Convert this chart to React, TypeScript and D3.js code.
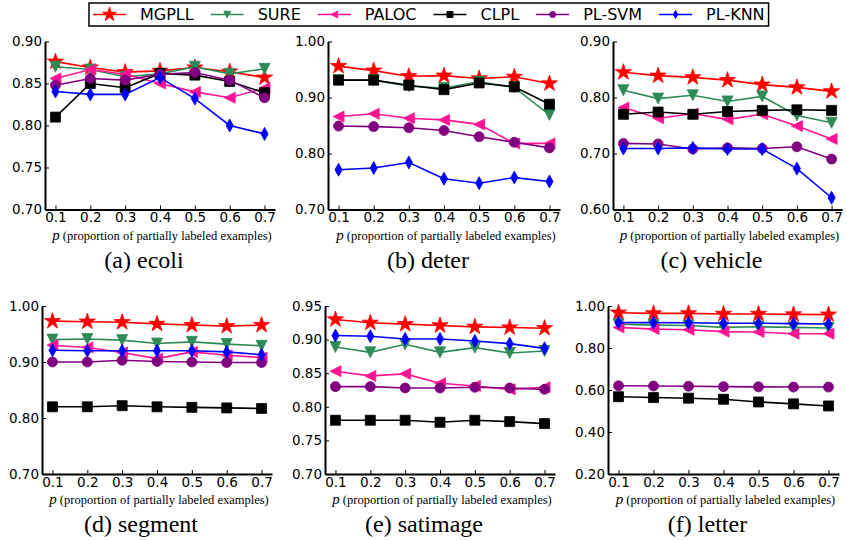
import React, { useEffect, useRef } from 'react';
import * as d3 from 'd3';

// x values shared by every panel
const pValues = [0.1, 0.2, 0.3, 0.4, 0.5, 0.6, 0.7];
const methods = ['MGPLL', 'SURE', 'PALOC', 'CLPL', 'PL-SVM', 'PL-KNN'];

// one row per method, in the order of `methods`
const ecoli = [
    [0.876, 0.869, 0.8635, 0.865, 0.869, 0.864, 0.857],
    [0.870, 0.8667, 0.858, 0.8615, 0.870, 0.8615, 0.8675],
    [0.856, 0.8667, 0.861, 0.850, 0.840, 0.833, 0.8445],
    [0.810, 0.850, 0.845, 0.862, 0.860, 0.8524, 0.839],
    [0.848, 0.856, 0.854, 0.861, 0.863, 0.854, 0.833],
    [0.8405, 0.837, 0.837, 0.857, 0.832, 0.800, 0.790]
];
const deter = [
    [0.956, 0.948, 0.938, 0.939, 0.934, 0.937, 0.925],
    [0.931, 0.931, 0.920, 0.917, 0.928, 0.918, 0.869],
    [0.866, 0.871, 0.863, 0.860, 0.852, 0.818, 0.818],
    [0.931, 0.931, 0.922, 0.914, 0.926, 0.919, 0.888],
    [0.849, 0.848, 0.846, 0.841, 0.830, 0.820, 0.810],
    [0.771, 0.774, 0.784, 0.755, 0.747, 0.757, 0.750]
];
const vehicle = [
    [0.845, 0.839, 0.836, 0.831, 0.823, 0.818, 0.811],
    [0.813, 0.798, 0.804, 0.793, 0.802, 0.768, 0.755],
    [0.782, 0.763, 0.771, 0.761, 0.770, 0.749, 0.726],
    [0.770, 0.774, 0.770, 0.775, 0.777, 0.778, 0.777],
    [0.718, 0.717, 0.708, 0.710, 0.709, 0.712, 0.690],
    [0.709, 0.709, 0.710, 0.708, 0.708, 0.673, 0.621]
];
const segment = [
    [0.973, 0.972, 0.971, 0.968, 0.966, 0.964, 0.966],
    [0.940, 0.941, 0.939, 0.933, 0.936, 0.932, 0.929],
    [0.930, 0.926, 0.917, 0.906, 0.918, 0.912, 0.908],
    [0.820, 0.820, 0.822, 0.820, 0.819, 0.818, 0.817],
    [0.900, 0.900, 0.903, 0.901, 0.900, 0.899, 0.899],
    [0.921, 0.920, 0.920, 0.920, 0.920, 0.918, 0.913]
];
const satimage = [
    [0.930, 0.925, 0.923, 0.921, 0.919, 0.918, 0.917],
    [0.889, 0.881, 0.893, 0.881, 0.888, 0.880, 0.883],
    [0.853, 0.846, 0.849, 0.835, 0.831, 0.826, 0.829],
    [0.780, 0.780, 0.780, 0.777, 0.780, 0.778, 0.775],
    [0.830, 0.830, 0.828, 0.828, 0.829, 0.828, 0.826],
    [0.906, 0.905, 0.901, 0.901, 0.898, 0.894, 0.887]
];
const letter = [
    [0.968, 0.965, 0.965, 0.962, 0.962, 0.960, 0.959],
    [0.913, 0.909, 0.907, 0.898, 0.901, 0.898, 0.895],
    [0.898, 0.890, 0.887, 0.878, 0.876, 0.868, 0.868],
    [0.568, 0.564, 0.561, 0.556, 0.543, 0.534, 0.524],
    [0.620, 0.619, 0.618, 0.616, 0.615, 0.614, 0.614],
    [0.921, 0.921, 0.920, 0.918, 0.918, 0.916, 0.914]
];

const captions = ['(a) ecoli', '(b) deter', '(c) vehicle', '(d) segment', '(e) satimage', '(f) letter'];
const ecoliTicks = [0.70, 0.75, 0.80, 0.85, 0.90];
const deterTicks = [0.70, 0.80, 0.90, 1.00];
const vehicleTicks = [0.60, 0.70, 0.80, 0.90];
const segmentTicks = [0.70, 0.80, 0.90, 1.00];
const satimageTicks = [0.70, 0.75, 0.80, 0.85, 0.90, 0.95];
const letterTicks = [0.20, 0.40, 0.60, 0.80, 1.00];

// styles
const colors = ['#ff0000', '#2e8b57', '#ff1493', '#000000', '#800080', '#0000ff'];
const markers = ['star', 'triDown', 'triLeft', 'square', 'circle', 'thinDiamond'];

// where each subplot sits on the page
const layout = [
    { left: 45, right: 275, top: 41.5, bottom: 209.5 },
    { left: 328, right: 560, top: 41.5, bottom: 209.5 },
    { left: 613, right: 842, top: 41.5, bottom: 209.5 },
    { left: 42, right: 272, top: 306, bottom: 474 },
    { left: 325, right: 555, top: 306, bottom: 474 },
    { left: 608, right: 839, top: 306, bottom: 474 }
];

const markerPath = (type: string, k: number) => {
    if (type === 'star') {
        const R = 8.5 * k, r = R * 0.382;
        const pts = d3.range(10).map(i => {
            const a = -Math.PI / 2 + i * Math.PI / 5;
            const rr = i % 2 === 0 ? R : r;
            return [rr * Math.cos(a), rr * Math.sin(a)];
        });
        return 'M' + pts.map(p => p.join(',')).join('L') + 'Z';
    }
    if (type === 'triDown') {
        const r = 5.5 * k;
        return `M0,${r}L${-r},${-r}L${r},${-r}Z`;
    }
    if (type === 'triLeft') {
        const r = 5.5 * k;
        return `M${-r},0L${r},${-r}L${r},${r}Z`;
    }
    if (type === 'square') {
        const r = 5 * k;
        return `M${-r},${-r}H${r}V${r}H${-r}Z`;
    }
    if (type === 'circle') {
        const r = 5 * k;
        return `M${r},0A${r},${r} 0 1,1 ${-r},0A${r},${r} 0 1,1 ${r},0Z`;
    }
    const w = 3.6 * k, h = 6.5 * k;
    return `M0,${-h}L${w},0L0,${h}L${-w},0Z`;
};

const App = () => {
    const ref = useRef<SVGSVGElement>(null);

    useEffect(() => {
        const svg = d3.select(ref.current);
        svg.selectAll('*').remove();

        const datasets = [ecoli, deter, vehicle, segment, satimage, letter];
        const tickSets = [ecoliTicks, deterTicks, vehicleTicks, segmentTicks, satimageTicks, letterTicks];

        datasets.forEach((data, pi) => {
            const box = layout[pi];
            const ticks = tickSets[pi];
            const g = svg.append('g');

            const xScale = d3.scaleLinear().domain([0.07, 0.73]).range([box.left, box.right]);
            const yScale = d3.scaleLinear()
                .domain([ticks[0], ticks[ticks.length - 1]])
                .range([box.bottom, box.top]);

            const gx = g.append('g')
                .attr('transform', `translate(0, ${box.bottom})`)
                .call(d3.axisBottom(xScale).tickValues(pValues).tickFormat(d3.format('.1f'))
                    .tickSizeInner(-4).tickSizeOuter(0).tickPadding(3));
            const gy = g.append('g')
                .attr('transform', `translate(${box.left}, 0)`)
                .call(d3.axisLeft(yScale).tickValues(ticks).tickFormat(d3.format('.2f'))
                    .tickSizeInner(-4).tickSizeOuter(0).tickPadding(3));

            [gx, gy].forEach(a => {
                a.select('.domain').attr('stroke-width', 2).attr('stroke', '#000');
                a.selectAll('.tick line').attr('stroke', '#000').attr('stroke-width', 1);
                a.selectAll('.tick text')
                    .attr('fill', '#000')
                    .style('font-family', '"DejaVu Sans", sans-serif')
                    .style('font-size', '13.5px');
            });

            const line = d3.line<number>()
                .x((d, i) => xScale(pValues[i]))
                .y(d => yScale(d));

            data.forEach((series, si) => {
                g.append('path')
                    .attr('d', line(series))
                    .attr('fill', 'none')
                    .attr('stroke', colors[si])
                    .attr('stroke-width', 1.6);
                g.selectAll(null)
                    .data(series)
                    .enter()
                    .append('path')
                    .attr('d', markerPath(markers[si], 1))
                    .attr('transform', (d, i) => `translate(${xScale(pValues[i])}, ${yScale(d)})`)
                    .attr('fill', colors[si])
                    .attr('stroke', colors[si])
                    .attr('stroke-width', 0.8);
            });

            const midX = (box.left + box.right) / 2;
            const label = g.append('text')
                .attr('x', midX + 2)
                .attr('y', box.bottom + 30)
                .attr('text-anchor', 'middle')
                .style('font-family', '"Liberation Serif", serif');
            label.append('tspan').text('p').style('font-style', 'italic').style('font-size', '15px');
            label.append('tspan').text(' (proportion of partially labeled examples)').style('font-size', '12.5px');

            g.append('text')
                .attr('x', midX - 16)
                .attr('y', box.bottom + 58)
                .attr('text-anchor', 'middle')
                .style('font-family', '"Liberation Serif", serif')
                .style('font-size', '24px')
                .text(captions[pi]);
        });

        // legend across the top
        const legend = svg.append('g');
        const frame = legend.append('rect')
            .attr('y', 3)
            .attr('height', 23)
            .attr('fill', '#fff')
            .attr('stroke', '#000')
            .attr('stroke-width', 1.5);
        let cursor = 93;
        methods.forEach((m, i) => {
            legend.append('line')
                .attr('x1', cursor).attr('x2', cursor + 33)
                .attr('y1', 14.5).attr('y2', 14.5)
                .attr('stroke', colors[i])
                .attr('stroke-width', 1.6);
            legend.append('path')
                .attr('d', markerPath(markers[i], markers[i] === 'star' ? 0.85 : 0.6))
                .attr('transform', `translate(${cursor + 16.5}, 14.5)`)
                .attr('fill', colors[i])
                .attr('stroke', colors[i]);
            const t = legend.append('text')
                .attr('x', cursor + 47)
                .attr('y', 20)
                .style('font-family', '"DejaVu Sans", sans-serif')
                .style('font-size', '16px')
                .text(m);
            const w = (t.node() as SVGTextElement).getComputedTextLength();
            cursor += 47 + w + 17;
        });
        frame.attr('x', 89).attr('width', cursor - 17 + 4 - 89);
    }, []);

    return (
        <svg ref={ref} width={847} height={540}
            style={{ position: 'absolute', left: 0, top: 0, background: '#fff' }} />
    );
};

export default App;
